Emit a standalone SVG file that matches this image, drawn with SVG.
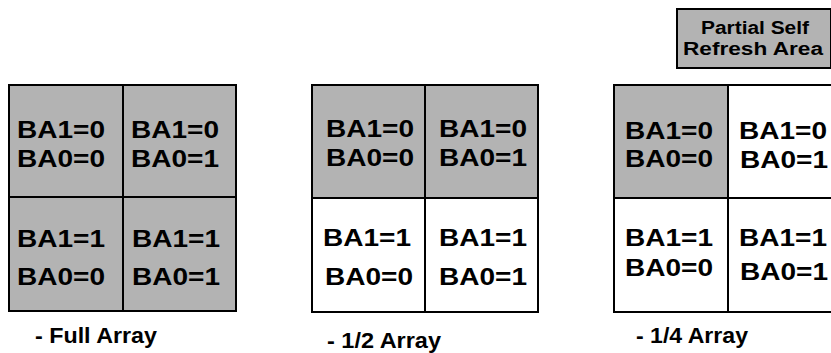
<svg xmlns="http://www.w3.org/2000/svg" width="831" height="353" viewBox="0 0 831 353">
<style>
.bg{fill:#ffffff}
.on{fill:#b3b3b3;stroke:#000;stroke-width:2}
.off{fill:#ffffff;stroke:#000;stroke-width:2}
.t{font-family:"Liberation Sans",Arial,sans-serif;font-weight:bold;font-size:24.5px;fill:#000}
.lg{font-family:"Liberation Sans",Arial,sans-serif;font-weight:bold;font-size:18px;fill:#000;text-anchor:middle}
.cap{font-family:"Liberation Sans",Arial,sans-serif;font-weight:bold;font-size:22px;fill:#000}
</style>
<rect class="bg" x="0" y="0" width="831" height="353"/>
<g id="legend">
<rect class="on" x="677" y="9" width="154" height="59"/>
<text class="lg" x="755" y="34" textLength="108" lengthAdjust="spacingAndGlyphs">Partial Self</text>
<text class="lg" x="753" y="55" textLength="140" lengthAdjust="spacingAndGlyphs">Refresh Area</text>
</g>
<g id="full-array">
<g id="full-00"><rect class="on" x="9" y="85" width="114" height="112"/>
<text class="t" x="17" y="138" textLength="88" lengthAdjust="spacingAndGlyphs">BA1=0</text>
<text class="t" x="17" y="167" textLength="88" lengthAdjust="spacingAndGlyphs">BA0=0</text></g>
<g id="full-01"><rect class="on" x="123" y="85" width="113" height="112"/>
<text class="t" x="131" y="138" textLength="88" lengthAdjust="spacingAndGlyphs">BA1=0</text>
<text class="t" x="131" y="167" textLength="88" lengthAdjust="spacingAndGlyphs">BA0=1</text></g>
<g id="full-10"><rect class="on" x="9" y="197" width="114" height="114"/>
<text class="t" x="17" y="247" textLength="88" lengthAdjust="spacingAndGlyphs">BA1=1</text>
<text class="t" x="17" y="285" textLength="88" lengthAdjust="spacingAndGlyphs">BA0=0</text></g>
<g id="full-11"><rect class="on" x="123" y="197" width="113" height="114"/>
<text class="t" x="132" y="247" textLength="88" lengthAdjust="spacingAndGlyphs">BA1=1</text>
<text class="t" x="132" y="285" textLength="88" lengthAdjust="spacingAndGlyphs">BA0=1</text></g>
<text class="cap" x="35" y="343" textLength="122" lengthAdjust="spacingAndGlyphs">- Full Array</text>
</g>
<g id="half-array">
<g id="half-00"><rect class="on" x="312" y="85" width="113" height="113"/>
<text class="t" x="326" y="137" textLength="88" lengthAdjust="spacingAndGlyphs">BA1=0</text>
<text class="t" x="326" y="166" textLength="88" lengthAdjust="spacingAndGlyphs">BA0=0</text></g>
<g id="half-01"><rect class="on" x="425" y="85" width="113" height="113"/>
<text class="t" x="439" y="137" textLength="88" lengthAdjust="spacingAndGlyphs">BA1=0</text>
<text class="t" x="439" y="166" textLength="88" lengthAdjust="spacingAndGlyphs">BA0=1</text></g>
<g id="half-10"><rect class="off" x="312" y="198" width="113" height="114"/>
<text class="t" x="323" y="246" textLength="88" lengthAdjust="spacingAndGlyphs">BA1=1</text>
<text class="t" x="325" y="285" textLength="88" lengthAdjust="spacingAndGlyphs">BA0=0</text></g>
<g id="half-11"><rect class="off" x="425" y="198" width="113" height="114"/>
<text class="t" x="439" y="246" textLength="88" lengthAdjust="spacingAndGlyphs">BA1=1</text>
<text class="t" x="439" y="285" textLength="88" lengthAdjust="spacingAndGlyphs">BA0=1</text></g>
<text class="cap" x="327" y="348" textLength="114" lengthAdjust="spacingAndGlyphs">- 1/2 Array</text>
</g>
<g id="quarter-array">
<g id="quarter-00"><rect class="on" x="614" y="85" width="114" height="113"/>
<text class="t" x="625" y="139" textLength="88" lengthAdjust="spacingAndGlyphs">BA1=0</text>
<text class="t" x="625" y="167" textLength="88" lengthAdjust="spacingAndGlyphs">BA0=0</text></g>
<g id="quarter-01"><rect class="off" x="728" y="85" width="113" height="113"/>
<text class="t" x="739" y="139" textLength="88" lengthAdjust="spacingAndGlyphs">BA1=0</text>
<text class="t" x="740" y="168" textLength="88" lengthAdjust="spacingAndGlyphs">BA0=1</text></g>
<g id="quarter-10"><rect class="off" x="614" y="198" width="114" height="114"/>
<text class="t" x="625" y="246" textLength="88" lengthAdjust="spacingAndGlyphs">BA1=1</text>
<text class="t" x="625" y="276" textLength="88" lengthAdjust="spacingAndGlyphs">BA0=0</text></g>
<g id="quarter-11"><rect class="off" x="728" y="198" width="113" height="114"/>
<text class="t" x="739" y="246" textLength="88" lengthAdjust="spacingAndGlyphs">BA1=1</text>
<text class="t" x="740" y="280" textLength="88" lengthAdjust="spacingAndGlyphs">BA0=1</text></g>
<text class="cap" x="636" y="343" textLength="112" lengthAdjust="spacingAndGlyphs">- 1/4 Array</text>
</g>
</svg>
